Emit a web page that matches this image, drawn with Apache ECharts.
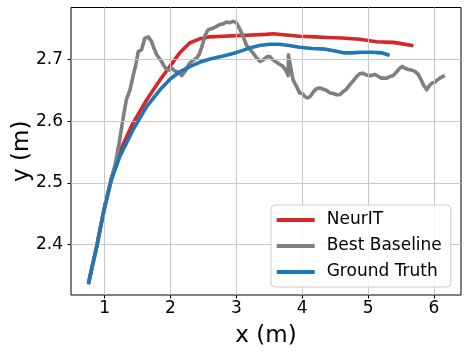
<!DOCTYPE html>
<html>
<head>
<meta charset="utf-8">
<script src="https://cdn.jsdelivr.net/npm/echarts@6/dist/echarts.min.js"></script>
<style>
html,body{margin:0;padding:0;background:#fff;}
#chart{width:469px;height:356px;}
</style>
</head>
<body>
<div id="chart"></div>
<script>
// ---- data ----
const xTicks = [1, 2, 3, 4, 5, 6];
const yTicks = [2.4, 2.5, 2.6, 2.7];
const seriesNames = ['NeurIT', 'Best Baseline', 'Ground Truth'];

const neuritX = [0.76, 0.88, 1.00, 1.10, 1.23, 1.43, 1.64, 1.74, 1.84, 1.99, 2.14, 2.29, 2.45, 2.60, 2.80, 3.00, 3.25, 3.45, 3.56, 3.75, 3.96, 4.20, 4.37, 4.60, 4.87, 5.00, 5.13, 5.38, 5.50, 5.66];
const neuritY = [2.340, 2.398, 2.462, 2.507, 2.551, 2.597, 2.635, 2.651, 2.667, 2.689, 2.711, 2.727, 2.734, 2.737, 2.738, 2.739, 2.740, 2.741, 2.742, 2.740, 2.738, 2.737, 2.736, 2.735, 2.733, 2.731, 2.729, 2.728, 2.726, 2.723];

const baselineX = [0.76, 0.88, 1.00, 1.10, 1.16, 1.22, 1.28, 1.33, 1.385, 1.43, 1.47, 1.51, 1.56, 1.61, 1.66, 1.71, 1.75, 1.79, 1.83, 1.865, 1.90, 1.94, 1.98, 2.02, 2.06, 2.09, 2.13, 2.17, 2.20, 2.24, 2.28, 2.32, 2.36, 2.40, 2.44, 2.47, 2.50, 2.52, 2.55, 2.58, 2.62, 2.65, 2.70, 2.75, 2.80, 2.85, 2.90, 2.95, 3.00, 3.04, 3.08, 3.12, 3.15, 3.20, 3.25, 3.30, 3.36, 3.40, 3.43, 3.47, 3.51, 3.55, 3.58, 3.62, 3.66, 3.70, 3.74, 3.77, 3.785, 3.79, 3.82, 3.86, 3.91, 3.96, 4.00, 4.04, 4.08, 4.12, 4.17, 4.22, 4.27, 4.32, 4.37, 4.42, 4.47, 4.52, 4.57, 4.62, 4.67, 4.72, 4.77, 4.82, 4.87, 4.92, 4.97, 5.03, 5.10, 5.15, 5.20, 5.28, 5.34, 5.38, 5.43, 5.48, 5.52, 5.56, 5.61, 5.66, 5.71, 5.76, 5.80, 5.84, 5.89, 5.93, 5.97, 6.01, 6.05, 6.09, 6.14];
const baselineY = [2.340, 2.396, 2.460, 2.505, 2.530, 2.565, 2.605, 2.635, 2.651, 2.673, 2.690, 2.713, 2.716, 2.735, 2.737, 2.730, 2.718, 2.708, 2.702, 2.697, 2.690, 2.684, 2.683, 2.686, 2.682, 2.684, 2.679, 2.674, 2.678, 2.684, 2.693, 2.697, 2.700, 2.703, 2.710, 2.719, 2.730, 2.738, 2.745, 2.749, 2.750, 2.752, 2.754, 2.757, 2.758, 2.761, 2.760, 2.762, 2.760, 2.752, 2.743, 2.733, 2.724, 2.717, 2.711, 2.704, 2.697, 2.699, 2.700, 2.705, 2.705, 2.700, 2.697, 2.695, 2.692, 2.690, 2.684, 2.678, 2.674, 2.708, 2.690, 2.667, 2.657, 2.646, 2.645, 2.640, 2.638, 2.640, 2.648, 2.653, 2.654, 2.652, 2.650, 2.646, 2.645, 2.643, 2.643, 2.648, 2.652, 2.659, 2.665, 2.672, 2.677, 2.678, 2.675, 2.674, 2.676, 2.673, 2.670, 2.670, 2.673, 2.674, 2.680, 2.686, 2.689, 2.686, 2.684, 2.683, 2.681, 2.676, 2.668, 2.659, 2.651, 2.658, 2.662, 2.663, 2.667, 2.670, 2.673];

const truthX = [0.76, 0.82, 0.88, 0.94, 1.00, 1.10, 1.23, 1.43, 1.64, 1.84, 2.00, 2.14, 2.30, 2.45, 2.60, 2.80, 2.95, 3.10, 3.20, 3.35, 3.50, 3.65, 3.80, 3.96, 4.15, 4.35, 4.50, 4.62, 4.75, 4.90, 5.05, 5.20, 5.30];
const truthY = [2.338, 2.368, 2.396, 2.430, 2.460, 2.504, 2.543, 2.586, 2.624, 2.651, 2.669, 2.680, 2.689, 2.696, 2.701, 2.706, 2.710, 2.715, 2.719, 2.723, 2.725, 2.725, 2.723, 2.720, 2.718, 2.717, 2.714, 2.711, 2.711, 2.712, 2.712, 2.711, 2.708];

const colors = ['#d62728', '#7f7f7f', '#1f77b4'];
// ---- chart ----
const zip = (xs, ys) => xs.map((x, i) => [x, ys[i]]);
const FONT = 'DejaVu Sans';
const chart = echarts.init(document.getElementById('chart'), null, {renderer: 'canvas'});

const gridLines = xTicks.map(v => ({xAxis: v})).concat(yTicks.map(v => ({yAxis: v})));

const dataSeries = [zip(neuritX, neuritY), zip(baselineX, baselineY), zip(truthX, truthY)].map((d, i) => ({
  name: seriesNames[i],
  type: 'line',
  data: d,
  showSymbol: false,
  symbol: 'none',
  z: 3 + i,
  lineStyle: {color: colors[i], width: 3.6, cap: 'square', join: 'round'},
  itemStyle: {color: colors[i]},
  animation: false
}));

chart.setOption({
  animation: false,
  backgroundColor: '#fff',
  textStyle: {fontFamily: FONT},
  grid: {left: 71, top: 7.5, width: 390, height: 287.5, show: true, borderColor: '#000', borderWidth: 1,
    backgroundColor: 'transparent', containLabel: false, outerBoundsMode: 'none'},
  xAxis: {
    type: 'value', min: 0.489, max: 6.41,
    name: 'x (m)', nameLocation: 'middle', nameGap: 30, nameMoveOverlap: false,
    nameTextStyle: {fontFamily: FONT, fontSize: 23, color: '#000'},
    axisLine: {show: false},
    axisTick: {show: true, length: 3.5, customValues: xTicks, lineStyle: {color: '#000', width: 1}},
    axisLabel: {customValues: xTicks, fontFamily: FONT, fontSize: 17, color: '#000', margin: 5},
    splitLine: {show: false}
  },
  yAxis: {
    type: 'value', min: 2.318, max: 2.7846,
    name: 'y (m)', nameLocation: 'middle', nameGap: 37, nameMoveOverlap: false,
    nameTextStyle: {fontFamily: FONT, fontSize: 23, color: '#000'},
    axisLine: {show: false},
    axisTick: {show: true, length: 3.5, customValues: yTicks, lineStyle: {color: '#000', width: 1}},
    axisLabel: {customValues: yTicks, fontFamily: FONT, fontSize: 17, color: '#000', margin: 8,
      formatter: v => v.toFixed(1)},
    splitLine: {show: false}
  },
  legend: {
    data: seriesNames,
    orient: 'vertical',
    left: 271, top: 205,
    z: 20,
    padding: [5, 9, 5, 5.7],
    itemGap: 6,
    itemWidth: 38, itemHeight: 4,
    icon: 'rect',
    backgroundColor: 'rgba(255,255,255,0.85)',
    borderColor: '#cccccc', borderWidth: 1, borderRadius: 4,
    textStyle: {fontFamily: FONT, fontSize: 17, color: '#000', lineHeight: 20, padding: [0, 0, 0, 7]}
  },
  series: [{
    type: 'line', data: [], z: 1, silent: true,
    markLine: {
      silent: true, symbol: 'none', animation: false,
      label: {show: false},
      lineStyle: {color: '#c8c8c8', width: 1, type: 'solid'},
      emphasis: {disabled: true},
      data: gridLines
    }
  }].concat(dataSeries)
});
</script>
</body>
</html>
